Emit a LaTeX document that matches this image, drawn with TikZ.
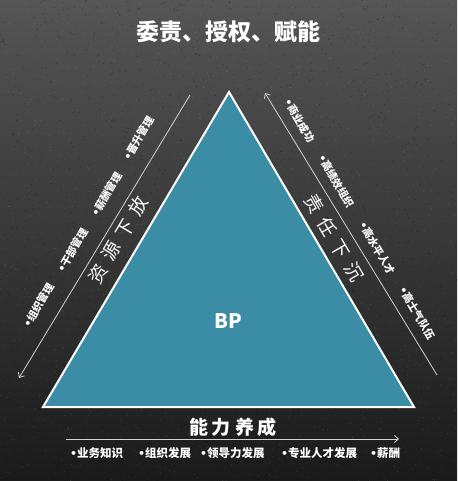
\documentclass[tikz,border=0pt]{standalone}
\usepackage{fontspec}
\newfontfamily\cjk{Noto Sans CJK SC}
\newfontfamily\dejavu{DejaVu Sans}
\usetikzlibrary{arrows.meta}
\definecolor{tealfill}{HTML}{3A8DA4}
\definecolor{bgtop}{HTML}{555555}
\definecolor{bgbot}{HTML}{1A1A1A}
\definecolor{linegray}{HTML}{D2D2D2}
\newcommand{\bul}{{\dejavu\fontsize{11}{12}\selectfont •}}
\begin{document}
\begin{tikzpicture}[x=1pt,y=-1pt,
  arr/.style={draw=linegray,line width=0.8pt,-{Straight Barb[length=4pt,width=7pt]}},
  tri/.style={draw=white,line width=2pt,fill=tealfill,line join=miter},
  small/.style={text=white,font=\cjk\bfseries\fontsize{10.5}{12}\selectfont,inner sep=0pt,anchor=west},
  bottomlbl/.style={text=white,font=\cjk\bfseries\fontsize{11.5}{13}\selectfont,inner sep=0pt,anchor=west},
  mainlbl/.style={text=white,font=\cjk\fontsize{18.5}{20}\selectfont,inner sep=0pt},
  titlelbl/.style={text=white,font=\cjk\bfseries\fontsize{23}{26}\selectfont,inner sep=0pt}]
\useasboundingbox (0,0) rectangle (457,481);
\shade[top color=bgtop,bottom color=bgbot] (0,0) rectangle (457,481);
% subtle texture
\pgfmathsetseed{7}
\foreach \i in {1,...,1400}{
  \pgfmathsetmacro{\px}{rnd*457}
  \pgfmathsetmacro{\py}{rnd*481}
  \fill[white,opacity=0.12] (\px,\py) circle (0.6pt);
}
\foreach \i in {1,...,1400}{
  \pgfmathsetmacro{\px}{rnd*457}
  \pgfmathsetmacro{\py}{rnd*481}
  \fill[black,opacity=0.25] (\px,\py) circle (0.7pt);
}
% triangle
\coordinate (apex) at (229,92);
\coordinate (bl) at (43,407);
\coordinate (br) at (414,407);
\draw[tri] (apex) -- (bl) -- (br) -- cycle;
\node[text=white,font=\cjk\bfseries\fontsize{20}{22}\selectfont,inner sep=0pt] (bp) at (228,321) {BP};
% title
\node[titlelbl] (title) at (228,32) {委责、授权、赋能};
% arrows
\coordinate (la1) at (190,95);
\coordinate (la2) at (19,378);
\draw[arr] (la1) -- (la2);
\coordinate (ra1) at (437,375);
\coordinate (ra2) at (265,93);
\draw[arr] (ra1) -- (ra2);
\coordinate (ba1) at (66,439);
\coordinate (ba2) at (399,439);
\draw[arr] (ba1) -- (ba2);
% main labels
\node[mainlbl,rotate=59.4] (res) at (118,240) {资\hspace{8pt}源\hspace{8pt}下\hspace{8pt}放};
\node[mainlbl,rotate=-59.6] (zer) at (334,238) {责\hspace{8pt}任\hspace{8pt}下\hspace{8pt}沉};
\node[mainlbl,font=\cjk\bfseries\fontsize{19}{21}\selectfont] (neng) at (233,427) {能\hspace{4pt}力\hspace{4pt}养\hspace{4pt}成};
% left small labels
\node[small,rotate=59.4] (l1) at (26,327) {\bul 组织管理};
\node[small,rotate=59.4] (l2) at (60,272) {\bul 干部管理};
\node[small,rotate=59.4] (l3) at (94,216) {\bul 薪酬管理};
\node[small,rotate=59.4] (l4) at (126,160) {\bul 晋升管理};
% right small labels
\node[small,rotate=-59.6] (r1) at (287,99) {\bul 商业成功};
\node[small,rotate=-59.6] (r2) at (321,155) {\bul 高绩效组织};
\node[small,rotate=-59.6] (r3) at (362,222) {\bul 高水平人才};
\node[small,rotate=-59.6] (r4) at (402,287) {\bul 高士气队伍};
% bottom labels
\node[bottomlbl] (b1) at (70,453) {\bul 业务知识};
\node[bottomlbl] (b2) at (138,453) {\bul 组织发展};
\node[bottomlbl] (b3) at (200,453) {\bul 领导力发展};
\node[bottomlbl] (b4) at (281,453) {\bul 专业人才发展};
\node[bottomlbl] (b5) at (370,453) {\bul 薪酬};
\end{tikzpicture}
\end{document}
